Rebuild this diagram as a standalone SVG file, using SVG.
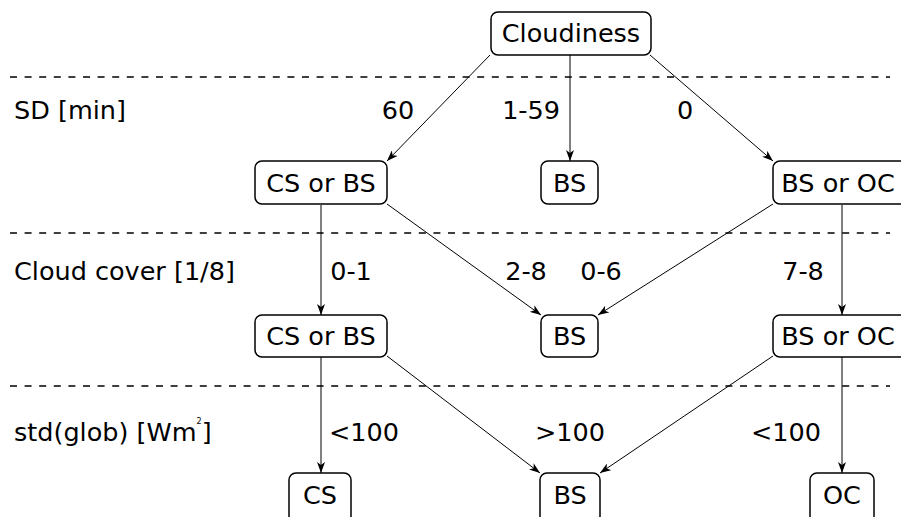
<svg xmlns="http://www.w3.org/2000/svg" width="901" height="517" viewBox="0 0 901 517">
<style>
text{font-family:"DejaVu Sans",sans-serif;font-size:25.5px;fill:#000}
.box{fill:#fff;stroke:#000;stroke-width:1.5}
.c{text-anchor:middle}
.dash{stroke:#000;stroke-width:1.3;stroke-dasharray:7 7.6;fill:none}
.e{stroke:#000;stroke-width:1;fill:none;marker-end:url(#ah)}
</style>
<defs>
<marker id="ah" viewBox="-11 -4 12 8" refX="0" refY="0" markerWidth="12" markerHeight="8" markerUnits="userSpaceOnUse" orient="auto">
<path d="M0,0 L-11,-4 L-8,0 L-11,4 Z" fill="#000"/>
</marker>
</defs>
<rect width="901" height="517" fill="#fff"/>
<g id="dividers">
<line class="dash" x1="10" y1="77" x2="890" y2="77"/>
<line class="dash" x1="10" y1="233" x2="890" y2="233"/>
<line class="dash" x1="10" y1="386" x2="890" y2="386"/>
</g>
<g id="row-labels">
<text x="14" y="119">SD [min]</text>
<text x="14" y="280">Cloud cover [1/8]</text>
<text x="14" y="441">std(glob) [Wm<tspan font-size="8" dy="-17">2</tspan><tspan dy="17">]</tspan></text>
</g>
<g id="connectors">
<line class="e" x1="490" y1="55" x2="387" y2="161"/>
<line class="e" x1="570" y1="55" x2="570" y2="161"/>
<line class="e" x1="650" y1="55" x2="773" y2="161"/>
<line class="e" x1="321" y1="205" x2="321" y2="315"/>
<line class="e" x1="387" y1="204" x2="541" y2="315"/>
<line class="e" x1="773" y1="204" x2="598" y2="315"/>
<line class="e" x1="842" y1="205" x2="842" y2="315"/>
<line class="e" x1="321" y1="357" x2="321" y2="473"/>
<line class="e" x1="387" y1="356" x2="540" y2="473"/>
<line class="e" x1="773" y1="356" x2="600" y2="473"/>
<line class="e" x1="842" y1="357" x2="842" y2="473"/>
<g id="edge-labels">
<text class="c" x="398" y="119">60</text>
<text x="560" y="119" text-anchor="end">1-59</text>
<text class="c" x="685" y="119">0</text>
<text class="c" x="351" y="280">0-1</text>
<text class="c" x="526" y="280">2-8</text>
<text class="c" x="601" y="280">0-6</text>
<text class="c" x="803" y="280">7-8</text>
<text class="c" x="364" y="441">&lt;100</text>
<text class="c" x="570" y="441">&gt;100</text>
<text class="c" x="786" y="441">&lt;100</text>
</g>
</g>
<g id="n-cloudiness"><rect class="box" x="491" y="12" width="160" height="43" rx="7"/><text class="c" x="571" y="42">Cloudiness</text></g>
<g id="n-csbs1"><rect class="box" x="255" y="161" width="132" height="43" rx="7"/><text class="c" x="321" y="192">CS or BS</text></g>
<g id="n-bs1"><rect class="box" x="541" y="161" width="57" height="43" rx="7"/><text class="c" x="569.5" y="192">BS</text></g>
<g id="n-bsoc1"><rect class="box" x="773" y="161" width="138" height="43" rx="7"/><text class="c" x="838" y="192">BS or OC</text></g>
<g id="n-csbs2"><rect class="box" x="255" y="315" width="132" height="42" rx="7"/><text class="c" x="321" y="345">CS or BS</text></g>
<g id="n-bs2"><rect class="box" x="541" y="315" width="57" height="42" rx="7"/><text class="c" x="569.5" y="345">BS</text></g>
<g id="n-bsoc2"><rect class="box" x="773" y="315" width="138" height="42" rx="7"/><text class="c" x="838" y="345">BS or OC</text></g>
<g id="n-cs3"><rect class="box" x="289" y="473" width="62" height="50" rx="7"/><text class="c" x="320" y="504">CS</text></g>
<g id="n-bs3"><rect class="box" x="540" y="473" width="60" height="50" rx="7"/><text class="c" x="570" y="504">BS</text></g>
<g id="n-oc3"><rect class="box" x="810" y="473" width="64" height="50" rx="7"/><text class="c" x="842" y="504">OC</text></g>
</svg>
